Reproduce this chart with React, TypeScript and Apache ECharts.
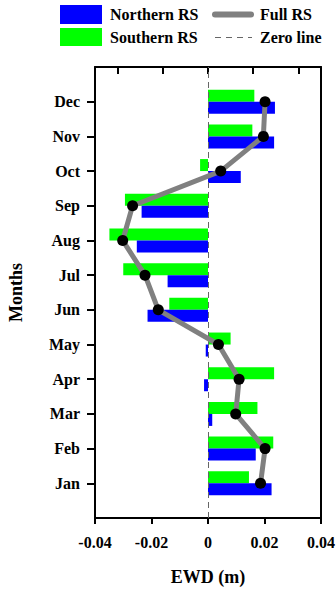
import React, { useEffect, useRef } from "react";
import * as echarts from "echarts";

const months = ["Jan", "Feb", "Mar", "Apr", "May", "Jun", "Jul", "Aug", "Sep", "Oct", "Nov", "Dec"];
const northernRS = [0.0225, 0.0169, 0.0015, -0.0014, -0.0008, -0.0214, -0.0143, -0.0252, -0.0235, 0.0116, 0.0234, 0.0237];
const southernRS = [0.0145, 0.0231, 0.0175, 0.0234, 0.008, -0.0137, -0.030, -0.0349, -0.0294, -0.0028, 0.0157, 0.0164];
const fullRS = [0.0186, 0.0202, 0.0098, 0.011, 0.0037, -0.0176, -0.0223, -0.0302, -0.0267, 0.0045, 0.0196, 0.0202];
const xTicks = [-0.04, -0.02, 0, 0.02, 0.04];
const topTicks = [-0.032, -0.016, 0, 0.016, 0.032];

const FONT = "'Liberation Serif', 'Times New Roman', serif";

export default function App() {
  const ref = useRef<HTMLDivElement>(null);
  useEffect(() => {
    if (!ref.current) return;
    const chart = echarts.init(ref.current, undefined, { renderer: "svg" });
    const cats = ["", ...months, ""];
    const pad = (arr: number[]) => [null, ...arr, null];
    const tickShow = (i: number) => i > 0 && i < cats.length - 1;
    const textStyle = { fontFamily: FONT, fontWeight: "bold" as const, fontSize: 16, color: "#000" };
    chart.setOption({
      animation: false,
      grid: { left: 95, right: 15, top: 67, bottom: 71, containLabel: false, outerBoundsMode: "none" },
      xAxis: [
        {
          type: "value",
          position: "bottom",
          min: xTicks[0],
          max: xTicks[xTicks.length - 1],
          interval: 0.02,
          name: "EWD (m)",
          nameLocation: "middle",
          nameGap: 50,
          nameTextStyle: { ...textStyle, fontSize: 18 },
          axisLine: { show: true, onZero: false, lineStyle: { color: "#000", width: 2 } },
          axisTick: { show: true, inside: false, length: 6, lineStyle: { color: "#000", width: 2 } },
          axisLabel: {
            ...textStyle,
            margin: 16,
            formatter: (v: number) => (Math.abs(v) < 1e-9 ? "0" : v.toFixed(2)),
          },
          splitLine: { show: false },
        },
        {
          type: "value",
          position: "top",
          min: xTicks[0],
          max: xTicks[xTicks.length - 1],
          axisLine: { show: true, onZero: false, lineStyle: { color: "#000", width: 2 } },
          axisTick: { show: true, inside: true, length: 7, customValues: topTicks, lineStyle: { color: "#000", width: 2 } },
          axisLabel: { show: false },
          splitLine: { show: false },
        },
      ],
      yAxis: [
        {
          type: "category",
          data: cats,
          boundaryGap: false,
          position: "left",
          name: "Months",
          nameLocation: "middle",
          nameGap: 70,
          nameRotate: 90,
          nameTextStyle: { ...textStyle, fontSize: 18 },
          axisLine: { show: true, onZero: false, lineStyle: { color: "#000", width: 2 } },
          axisTick: { show: true, inside: false, length: 8, interval: (i: number) => tickShow(i), lineStyle: { color: "#000", width: 2 } },
          axisLabel: { ...textStyle, margin: 15, interval: 0 },
          splitLine: { show: false },
        },
        {
          type: "category",
          data: cats,
          boundaryGap: false,
          position: "right",
          axisLine: { show: true, onZero: false, lineStyle: { color: "#000", width: 2 } },
          axisTick: { show: false },
          axisLabel: { show: false },
          splitLine: { show: false },
        },
      ],
      series: [
        {
          name: "Southern RS",
          type: "bar",
          data: pad(southernRS),
          barWidth: 12,
          barGap: "0%",
          itemStyle: { color: "#00ff00" },
          markLine: {
            silent: true,
            symbol: "none",
            label: { show: false },
            lineStyle: { color: "#666", width: 1, type: [6, 4] },
            data: [{ xAxis: 0 }],
          },
        },
        {
          name: "Northern RS",
          type: "bar",
          data: pad(northernRS),
          barWidth: 12,
          barGap: "0%",
          itemStyle: { color: "#0000ff" },
        },
        {
          name: "Full RS",
          type: "line",
          data: pad(fullRS),
          z: 5,
          symbol: "circle",
          symbolSize: 11,
          lineStyle: { color: "#808080", width: 5 },
          itemStyle: { color: "#000" },
        },
      ],
      graphic: [
        { type: "rect", shape: { x: 60, y: 5, width: 42, height: 19 }, style: { fill: "#0000ff" } },
        { type: "rect", shape: { x: 60, y: 28, width: 42, height: 18 }, style: { fill: "#00ff00" } },
        { type: "text", x: 110, y: 14.5, style: { text: "Northern RS", font: `bold 16px ${FONT}`, fill: "#000", verticalAlign: "middle" } },
        { type: "text", x: 110, y: 37, style: { text: "Southern RS", font: `bold 16px ${FONT}`, fill: "#000", verticalAlign: "middle" } },
        { type: "line", shape: { x1: 215, y1: 14.5, x2: 251, y2: 14.5 }, style: { stroke: "#808080", lineWidth: 6, lineCap: "round" } },
        { type: "line", shape: { x1: 215, y1: 37.5, x2: 252, y2: 37.5 }, style: { stroke: "#666", lineWidth: 1, lineDash: [6, 5] } },
        { type: "text", x: 260, y: 14.5, style: { text: "Full RS", font: `bold 16px ${FONT}`, fill: "#000", verticalAlign: "middle" } },
        { type: "text", x: 260, y: 37, style: { text: "Zero line", font: `bold 16px ${FONT}`, fill: "#000", verticalAlign: "middle" } },
      ],
    });
    return () => chart.dispose();
  }, []);
  return <div ref={ref} style={{ position: "absolute", left: 0, top: 0, width: 336, height: 589 }} />;
}
